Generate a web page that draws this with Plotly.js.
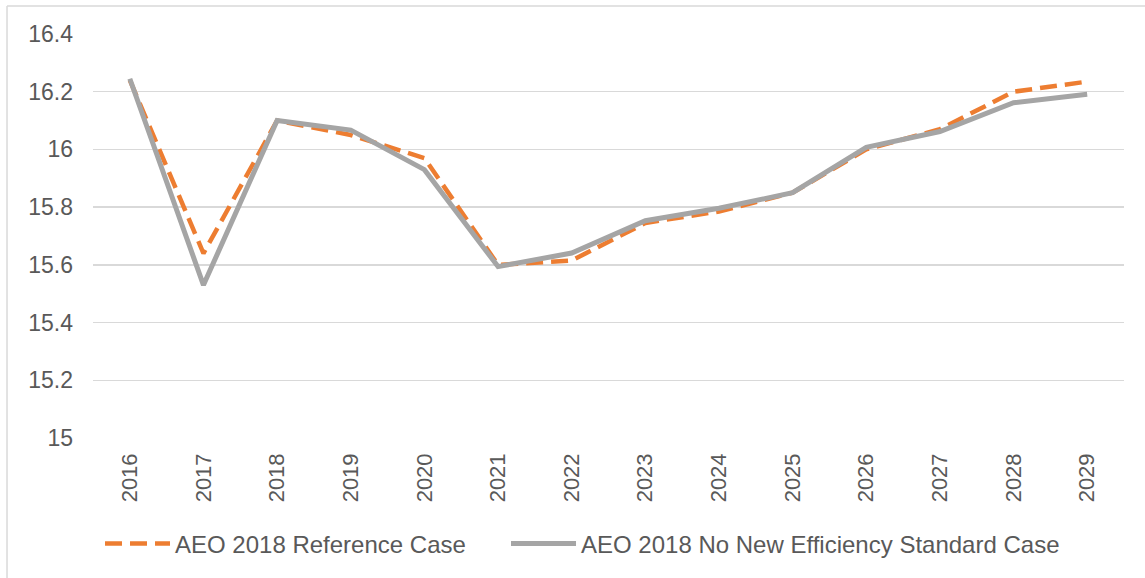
<!DOCTYPE html>
<html>
<head>
<meta charset="utf-8">
<script src="https://cdn.plot.ly/plotly-3.0.1.min.js"></script>
<style>html,body{margin:0;padding:0;background:#fff;}#chart{width:1145px;height:578px;}</style>
</head>
<body>
<div id="chart"></div>
<script>
const years = ["2016","2017","2018","2019","2020","2021","2022","2023","2024","2025","2026","2027","2028","2029"];
const referenceCase = [16.24,15.64,16.10,16.05,15.97,15.60,15.615,15.745,15.785,15.85,16.00,16.07,16.20,16.235];
const noNewStandardCase = [16.245,15.53,16.10,16.067,15.93,15.594,15.641,15.753,15.796,15.85,16.007,16.062,16.162,16.191];
const seriesNames = ["AEO 2018 Reference Case","AEO 2018 No New Efficiency Standard Case"];

const font = {family:"'Liberation Sans', Arial, sans-serif", color:"#595959"};

const traces = [
  {x: years, y: referenceCase, name: seriesNames[0], type:"scatter", mode:"lines",
   legendwidth:326,
   line:{color:"#ED7D31", width:4.5, dash:"17px,8px"}},
  {x: years, y: noNewStandardCase, name: seriesNames[1], type:"scatter", mode:"lines",
   line:{color:"#A5A5A5", width:5}}
];

const layout = {
  width:1145, height:578,
  margin:{l:93, r:21, t:34, b:140},
  paper_bgcolor:"#fff", plot_bgcolor:"#fff",
  font: Object.assign({size:22}, font),
  showlegend:true,
  legend:{orientation:"h", x:0.0068, xanchor:"left", y:-0.262, yanchor:"middle",
          font:Object.assign({size:24}, font), itemwidth:65, traceorder:"normal"},
  xaxis:{type:"category", range:[-0.5, 13.5], showgrid:false, zeroline:false, showline:false,
         tickangle:-90, tickfont:Object.assign({size:22}, font), ticks:"", ticklabelstandoff:10},
  yaxis:{range:[15,16.4], dtick:0.2, tick0:15, showgrid:true, gridcolor:"#D9D9D9", gridwidth:1.5,
         zeroline:false, showline:false, ticks:"", tickfont:Object.assign({size:23}, font),
         ticklabelstandoff:19},
  shapes:[
    {type:"line", xref:"paper", yref:"paper", x0:-0.0834, x1:-0.0834, y0:-0.35, y1:1.069,
     line:{color:"#D9D9D9", width:1.5}},
    {type:"line", xref:"paper", yref:"paper", x0:-0.0834, x1:1.03, y0:1.069, y1:1.069,
     line:{color:"#D9D9D9", width:1.5}}
  ],
  hovermode:false
};

Plotly.newPlot("chart", traces, layout, {displayModeBar:false, staticPlot:true});
</script>
</body>
</html>
